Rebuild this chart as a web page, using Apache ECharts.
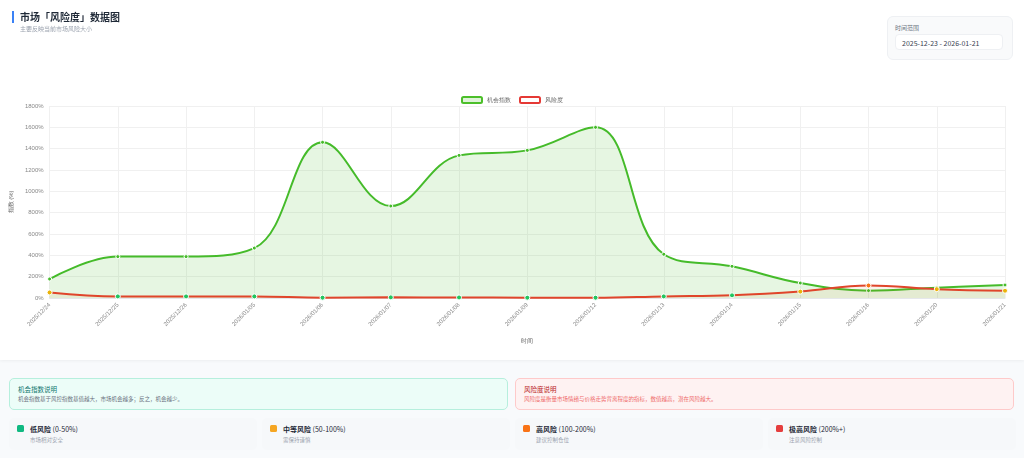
<!DOCTYPE html>
<html><head><meta charset="utf-8">
<script src="https://cdn.jsdelivr.net/npm/echarts@6/dist/echarts.min.js"></script>
<style>
html,body{margin:0;padding:0;width:1024px;height:458px;overflow:hidden;background:#f8fafc;font-family:"Noto Sans CJK SC","Noto Sans",sans-serif;}
#card{position:absolute;left:0;top:0;width:1024px;height:360px;background:#fff;box-shadow:0 1px 3px rgba(0,0,0,0.05);}
#chart{position:absolute;left:0;top:0;width:1024px;height:360px;}
#title{position:absolute;left:12px;top:11px;border-left:2px solid #3b82f6;padding-left:6px;font-size:10px;font-weight:bold;color:#1f2937;line-height:12px;}
#sub{position:absolute;left:20px;top:24px;font-size:6px;color:#9ca3af;}
#range{position:absolute;left:887px;top:16px;width:124px;height:42px;background:#f9fafb;border:1px solid #eef0f3;border-radius:6px;}
#range .lbl{position:absolute;left:7px;top:6px;font-size:6px;color:#6b7280;}
#range .inp{position:absolute;left:7px;top:17px;width:108px;height:16px;background:#fff;border:1px solid #eef0f3;border-radius:4px;font-size:7px;color:#374151;line-height:16px;padding-left:6px;box-sizing:border-box;}
.info{position:absolute;top:378px;height:32px;border-radius:5px;box-sizing:border-box;padding:6px 8px;}
.info .t{font-size:6.5px;line-height:9px;}
.info .d{font-size:5.5px;line-height:9px;margin-top:1px;}
#i1{left:9px;width:499px;background:#ecfdf8;border:1px solid #b6efdd;}
#i1 .t{color:#0f766e;} #i1 .d{color:#6b7280;}
#i2{left:515px;width:499px;background:#fef2f2;border:1px solid #fecaca;}
#i2 .t{color:#b91c1c;} #i2 .d{color:#ef6b6b;}
.lv{position:absolute;top:418px;width:248px;height:32px;background:#f6f8fa;border-radius:5px;}
.lv .sq{position:absolute;left:8px;top:7px;width:7px;height:7px;border-radius:1.5px;}
.lv .n{position:absolute;left:21px;top:6px;font-size:7px;font-weight:bold;color:#1f2937;}
.lv .n span{font-weight:normal;}
.lv .s{position:absolute;left:21px;top:18px;font-size:5.5px;color:#9ca3af;}
</style></head>
<body>
<div id="card"></div>
<div id="chart"></div>
<div id="title">市场「风险度」数据图</div>
<div id="sub">主要反映当前市场风险大小</div>
<div id="range"><div class="lbl">时间范围</div><div class="inp">2025-12-23 - 2026-01-21</div></div>
<div class="info" id="i1"><div class="t">机会指数说明</div><div class="d">机会指数基于风控指数基值越大，市场机会越多；反之，机会越少。</div></div>
<div class="info" id="i2"><div class="t">风险度说明</div><div class="d">风险度是衡量市场情绪与价格走势背离程度的指标，数值越高，潜在风险越大。</div></div>
<div class="lv" style="left:9px"><div class="sq" style="background:#10b981"></div><div class="n">低风险 <span>(0-50%)</span></div><div class="s">市场相对安全</div></div>
<div class="lv" style="left:262px"><div class="sq" style="background:#f5a623"></div><div class="n">中等风险 <span>(50-100%)</span></div><div class="s">需保持谨慎</div></div>
<div class="lv" style="left:515px"><div class="sq" style="background:#f97316"></div><div class="n">高风险 <span>(100-200%)</span></div><div class="s">建议控制仓位</div></div>
<div class="lv" style="left:768px"><div class="sq" style="background:#e53e3e"></div><div class="n">极高风险 <span>(200%+)</span></div><div class="s">注意风险控制</div></div>
<script>
const categories = ['2025/12/24','2025/12/25','2025/12/26','2026/01/05','2026/01/06','2026/01/07','2026/01/08','2026/01/09','2026/01/12','2026/01/13','2026/01/14','2026/01/15','2026/01/16','2026/01/20','2026/01/21'];
const opportunity = [178, 388, 388, 468, 1460, 862, 1337, 1384, 1600, 410, 297, 140, 69, 97, 122];
const risk = [52, 15, 15, 15, 3, 6, 5, 3, 3, 15, 25, 60, 117, 83, 68];
const yTicks = [0, 200, 400, 600, 800, 1000, 1200, 1400, 1600, 1800];

function riskColor(v){
  if (v < 50) return '#22c55e';
  if (v < 100) return '#eab308';
  if (v < 200) return '#f97316';
  return '#ef4444';
}

const chart = echarts.init(document.getElementById('chart'));
chart.setOption({
  animation:false,
  legend:{
    top:91, left:'center', itemWidth:20, itemHeight:6, itemGap:8,
    icon:'roundRect',
    textStyle:{fontSize:6, color:'#666'},
    data:[
      {name:'机会指数', itemStyle:{color:'#dff3d9', borderColor:'#4cbf2a', borderWidth:2}},
      {name:'风险度', itemStyle:{color:'#fff', borderColor:'#e53935', borderWidth:2}}
    ]
  },
  grid:{left:49, right:19, top:106, bottom:62},
  xAxis:{
    type:'category', data:categories, boundaryGap:false,
    name:'时间', nameLocation:'middle', nameGap:40,
    nameTextStyle:{fontSize:6, color:'#666'},
    axisLine:{lineStyle:{color:'#e5e7eb'}},
    axisTick:{show:false},
    axisLabel:{rotate:45, fontSize:6, color:'#888', margin:6},
    splitLine:{show:true, lineStyle:{color:'#f0f0f0'}}
  },
  yAxis:{
    type:'value', min:yTicks[0], max:yTicks[yTicks.length-1], interval:200,
    name:'指数 (%)', nameLocation:'middle', nameGap:33, nameRotate:90,
    nameTextStyle:{fontSize:6, color:'#666'},
    axisLine:{show:false}, axisTick:{show:false},
    axisLabel:{fontSize:6, color:'#888', formatter:v=>v+'%', margin:6},
    splitLine:{lineStyle:{color:'#f0f0f0'}}
  },
  series:[
    {
      name:'机会指数', type:'line', smooth:0.4, data:opportunity,
      symbol:'circle', symbolSize:4,
      lineStyle:{color:'#45bb2a', width:2},
      itemStyle:{color:'#45bb2a', borderColor:'#fff', borderWidth:1},
      areaStyle:{color:'rgba(76,190,50,0.2)'},
      z:2
    },
    {
      name:'风险度', type:'line', smooth:0.4,
      data:risk.map(v=>({value:v, itemStyle:{color:riskColor(v)}})),
      symbol:'circle', symbolSize:5,
      lineStyle:{color:'#e0452b', width:2},
      itemStyle:{color:'#e53935', borderColor:'#fff', borderWidth:1},
      areaStyle:{color:'rgba(200,120,40,0.12)'},
      z:3
    }
  ]
});
</script>
</body></html>
